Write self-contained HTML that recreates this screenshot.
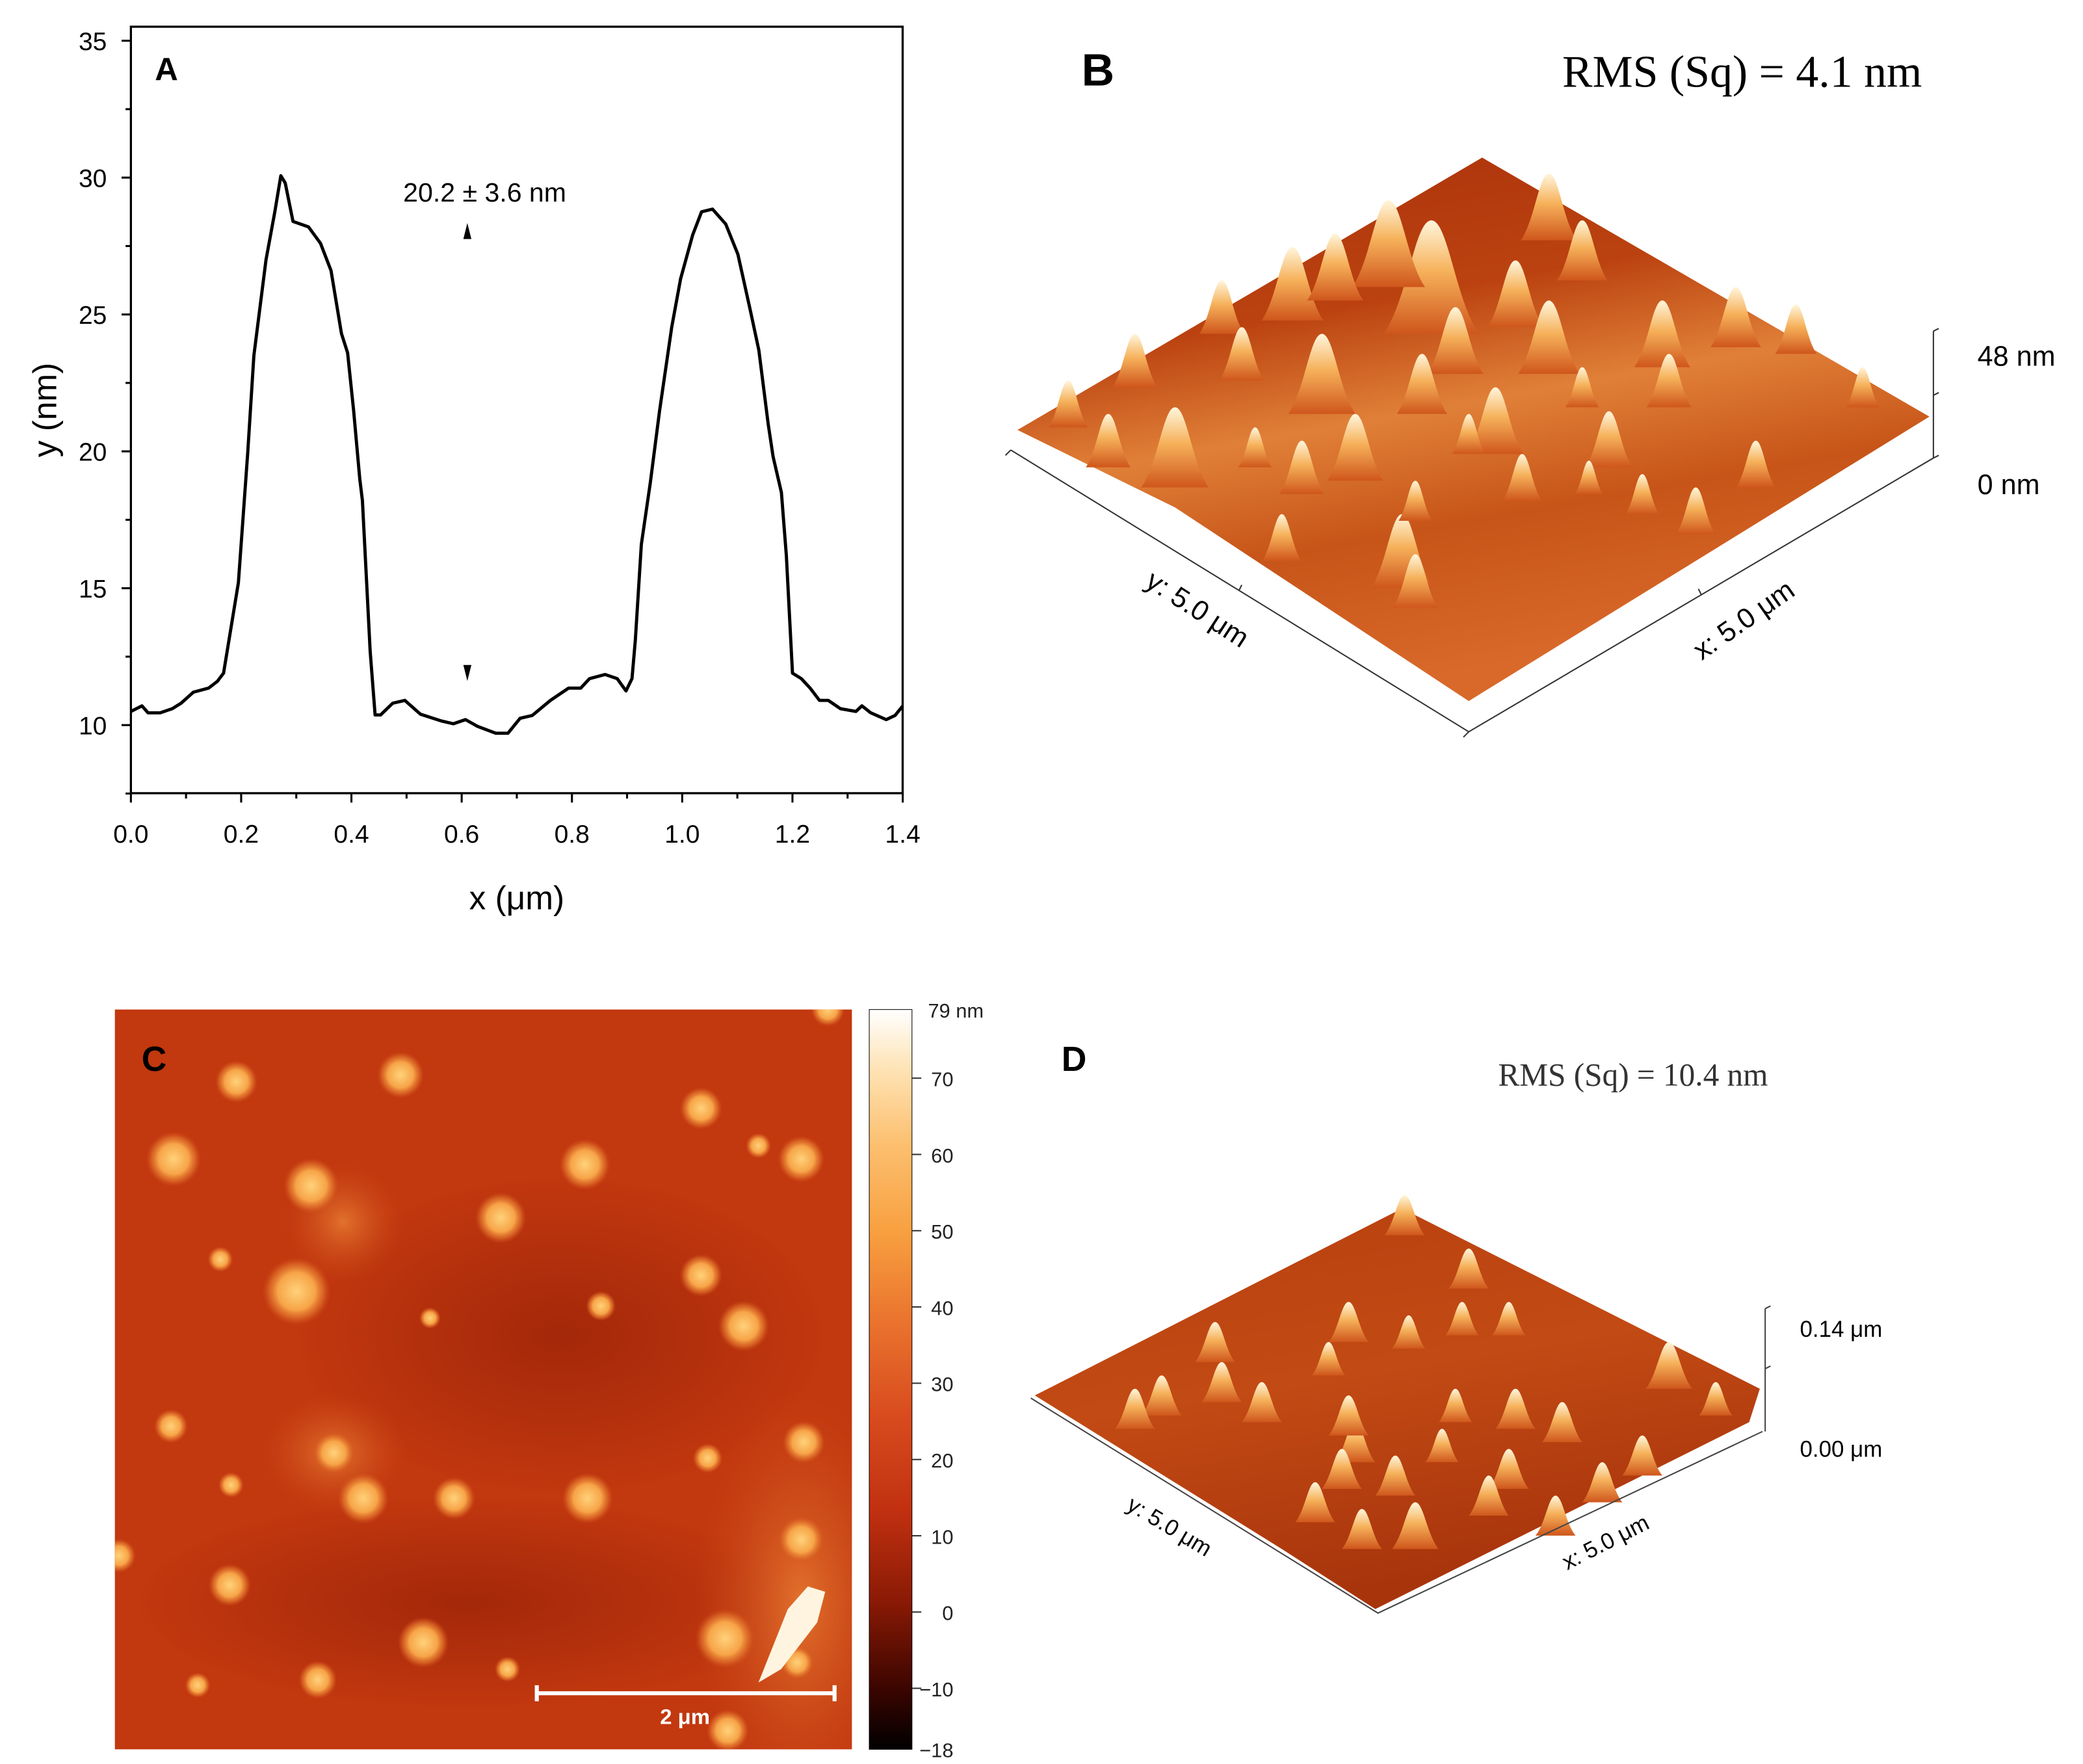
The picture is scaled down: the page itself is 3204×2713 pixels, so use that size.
<!DOCTYPE html>
<html><head><meta charset="utf-8"><style>
html,body{margin:0;padding:0;background:#fff}
svg{display:block;font-family:"Liberation Sans",sans-serif}
</style></head><body>
<svg id="fig" width="3204" height="2713" viewBox="0 0 1560 1321" xmlns="http://www.w3.org/2000/svg">
<defs>
 <linearGradient id="cbar" x1="0" y1="1" x2="0" y2="0">
  <stop offset="0" stop-color="#000"/><stop offset="0.08" stop-color="#3a0500"/>
  <stop offset="0.2" stop-color="#8a1a05"/><stop offset="0.32" stop-color="#c03010"/>
  <stop offset="0.45" stop-color="#d84b1e"/><stop offset="0.58" stop-color="#ea742e"/>
  <stop offset="0.7" stop-color="#f8a040"/><stop offset="0.82" stop-color="#fcc070"/>
  <stop offset="0.92" stop-color="#fee3b5"/><stop offset="1" stop-color="#fff"/>
 </linearGradient>
 <radialGradient id="spot"><stop offset="0" stop-color="#ffd27a"/><stop offset="0.55" stop-color="#f7a448"/><stop offset="0.8" stop-color="#e0702a" stop-opacity="0.7"/><stop offset="1" stop-color="#d0501c" stop-opacity="0"/></radialGradient>
 <radialGradient id="glow"><stop offset="0" stop-color="#f08a3a" stop-opacity="0.7"/><stop offset="1" stop-color="#d0501c" stop-opacity="0"/></radialGradient>
 <radialGradient id="dark"><stop offset="0" stop-color="#8a1a05" stop-opacity="0.55"/><stop offset="1" stop-color="#8a1a05" stop-opacity="0"/></radialGradient>
 <linearGradient id="peak" x1="0" y1="0" x2="0" y2="1"><stop offset="0" stop-color="#fff6dc"/><stop offset="0.45" stop-color="#f6b15a"/><stop offset="1" stop-color="#cf561c"/></linearGradient>
 <linearGradient id="surfB" x1="0" y1="0" x2="0.3" y2="1"><stop offset="0" stop-color="#a9300a"/><stop offset="0.35" stop-color="#bb4210"/><stop offset="0.55" stop-color="#e08038"/><stop offset="0.75" stop-color="#c75418"/><stop offset="1" stop-color="#d8692a"/></linearGradient>
 <linearGradient id="surfD" x1="0" y1="0" x2="0.3" y2="1"><stop offset="0" stop-color="#b8400f"/><stop offset="0.5" stop-color="#c24a14"/><stop offset="1" stop-color="#a8340c"/></linearGradient>
</defs>

<g id="panelA">
 <rect x="98" y="20" width="578" height="574" fill="none" stroke="#000" stroke-width="1.6"/>
 <g id="axA"></g>
 <path id="profile" fill="none" stroke="#000" stroke-width="2.4" stroke-linejoin="round"/>
 <text x="116" y="60" font-size="24" font-weight="bold">A</text>
 <text x="363" y="151" font-size="20" text-anchor="middle">20.2 ± 3.6 nm</text>
 <path d="M347,179 L350,167 L353,179 Z" fill="#000"/>
 <path d="M347,498 L350,510 L353,498 Z" fill="#000"/>
 <text x="387" y="681" font-size="25" text-anchor="middle">x (μm)</text>
 <text transform="translate(42,307) rotate(-90)" font-size="25" text-anchor="middle">y (nm)</text>
</g>

<g id="panelB">
 <text x="810" y="64" font-size="34" font-weight="bold">B</text>
 <text x="1170" y="65" font-size="34" style="font-family:'Liberation Serif',serif">RMS (Sq) = 4.1 nm</text>
 <polygon points="762,322 1110,118 1445,312 1100,525 880,380" fill="url(#surfB)"/>
 <g id="peaksB"></g>
 <g stroke="#333" stroke-width="1" fill="none">
  <path d="M757,337 L1100,548 L1448,343"/>
  <path d="M1448,248 L1448,343 M1448,248 L1452,246 M1448,296 L1452,294 M1448,343 L1452,341 M757,337 L753,341 M1100,548 L1096,552 M928,442 L930,438 M1274,445 L1272,441"/>
 </g>
 <text x="1481" y="274" font-size="21">48 nm</text>
 <text x="1481" y="370" font-size="21">0 nm</text>
 <text transform="translate(893,462) rotate(33)" font-size="21" text-anchor="middle">y: 5.0 μm</text>
 <text transform="translate(1310,470) rotate(-35)" font-size="21" text-anchor="middle">x: 5.0 μm</text>
</g>

<g id="panelC">
 <clipPath id="clipC"><rect x="86" y="756" width="552" height="554"/></clipPath>
 <rect x="86" y="756" width="552" height="554" fill="#c2380f"/>
 <g clip-path="url(#clipC)">
  <ellipse cx="420" cy="1000" rx="200" ry="120" fill="url(#dark)"/>
  <ellipse cx="350" cy="1200" rx="250" ry="80" fill="url(#dark)"/>
  <ellipse cx="600" cy="1200" rx="80" ry="160" fill="url(#glow)"/>
  <ellipse cx="250" cy="1088" rx="55" ry="45" fill="url(#glow)"/>
  <ellipse cx="257" cy="915" rx="45" ry="45" fill="url(#glow)"/>
  <g id="spotsC"></g>
  <path d="M568,1260 L590,1205 L605,1188 L618,1192 L612,1215 L585,1250 Z" fill="#fff4e0"/>
 </g>
 <text x="106" y="802" font-size="26" font-weight="bold">C</text>
 <path d="M402,1268 L625,1268 M402,1262 L402,1274 M625,1262 L625,1274" stroke="#fff" stroke-width="3"/>
 <text x="513" y="1291" font-size="16" font-weight="bold" fill="#fff" text-anchor="middle">2 μm</text>
 <rect x="651" y="756" width="32" height="554" fill="url(#cbar)" stroke="#000" stroke-width="0.5"/>
 <g id="cbarTicks"></g>
</g>

<g id="panelD">
 <text x="795" y="802" font-size="26" font-weight="bold">D</text>
 <text x="1122" y="813" font-size="24" style="font-family:'Liberation Serif',serif" fill="#333">RMS (Sq) = 10.4 nm</text>
 <polygon points="775,1045 1050,905 1318,1040 1310,1065 1030,1205 960,1160" fill="url(#surfD)"/>
 <g id="peaksD"></g>
 <g stroke="#444" stroke-width="1" fill="none">
  <path d="M772,1047 L1032,1208 L1320,1072"/>
  <path d="M1322,980 L1322,1072 M1322,980 L1326,978 M1322,1025 L1326,1023"/>
 </g>
 <text x="1348" y="1001" font-size="17">0.14 μm</text>
 <text x="1348" y="1091" font-size="17">0.00 μm</text>
 <text transform="translate(873,1148) rotate(31)" font-size="17" text-anchor="middle">y: 5.0 μm</text>
 <text transform="translate(1205,1160) rotate(-27)" font-size="17" text-anchor="middle">x: 5.0 μm</text>
</g>
</svg>
<script>
const profileX=[0,0.02,0.031,0.053,0.075,0.091,0.113,0.141,0.157,0.168,0.195,0.212,0.223,0.245,0.261,0.272,0.28,0.294,0.322,0.344,0.363,0.382,0.393,0.404,0.415,0.42,0.434,0.443,0.453,0.475,0.497,0.525,0.563,0.585,0.607,0.629,0.662,0.684,0.706,0.728,0.761,0.794,0.816,0.832,0.86,0.882,0.898,0.909,0.915,0.926,0.942,0.959,0.981,0.997,1.019,1.035,1.055,1.079,1.101,1.123,1.139,1.156,1.165,1.18,1.189,1.2,1.216,1.232,1.249,1.265,1.287,1.315,1.326,1.342,1.37,1.386,1.4];
const profileY=[10.5,10.7,10.45,10.45,10.6,10.8,11.2,11.35,11.6,11.9,15.2,19.95,23.5,27,28.75,30.07,29.8,28.4,28.2,27.6,26.6,24.3,23.6,21.5,19,18.2,12.7,10.37,10.37,10.8,10.9,10.4,10.15,10.05,10.2,9.95,9.7,9.7,10.25,10.35,10.9,11.35,11.35,11.7,11.85,11.7,11.25,11.7,13.1,16.6,18.85,21.5,24.55,26.3,27.9,28.75,28.85,28.3,27.2,25.2,23.7,21,19.8,18.5,16.2,11.9,11.7,11.35,10.9,10.9,10.6,10.5,10.7,10.45,10.2,10.35,10.7];
const yTicks=[10,15,20,25,30,35];
const xTicks=[0,0.2,0.4,0.6,0.8,1.0,1.2,1.4];
const cbarTicks=[79,70,60,50,40,30,20,10,0,-10,-18];
const NS="http://www.w3.org/2000/svg";
const sx=v=>98+v*412.9, sy=v=>543-(v-10)*20.5;
function mk(tag,attrs,parent){const e=document.createElementNS(NS,tag);for(const k in attrs)e.setAttribute(k,attrs[k]);parent.appendChild(e);return e;}
document.getElementById('profile').setAttribute('d',profileX.map((x,i)=>(i?'L':'M')+sx(x).toFixed(1)+','+sy(profileY[i]).toFixed(1)).join(' '));
const axA=document.getElementById('axA');
for(let v=7.5;v<=35.01;v+=2.5){const major=yTicks.includes(v);const l=mk('line',{x1:98,x2:major?91:94,y1:sy(v),y2:sy(v),stroke:'#000','stroke-width':1.5},axA);

}
yTicks.forEach(v=>{const t=mk('text',{x:80,y:sy(v)+7,'font-size':19,'text-anchor':'end'},axA);t.textContent=v;

});
for(let i=0;i<=14;i++){const v=i/10;const l=mk('line',{x1:sx(v),x2:sx(v),y1:594,y2:i%2?598:601,stroke:'#000','stroke-width':1.5},axA);

}
xTicks.forEach(v=>{const t=mk('text',{x:sx(v),y:631,'font-size':19,'text-anchor':'middle'},axA);t.textContent=v.toFixed(1);

});
const cb=document.getElementById('cbarTicks');
const cbY=v=>1310-(v+18)/(97)*554;
cbarTicks.forEach(v=>{const y=cbY(v);
 if(v!==79&&v!==-18){const l=mk('line',{x1:683,x2:690,y1:y,y2:y,stroke:'#333','stroke-width':1},cb);
 
 }
 const t=mk('text',{x:v===79?695:714,y:y+6,'font-size':15,'text-anchor':v===79?'start':'end',fill:'#222'},cb);t.textContent=v===79?'79 nm':(v<0?'−'+(-v):v);
 
 });
const spotX=[177,300,525,130,233,438,375,568,600,222,525,450,557,165,322,128,250,440,272,340,173,602,530,600,172,317,543,380,238,148,89,620,597,545];
const spotY=[810,805,830,868,888,872,912,858,868,967,955,978,993,943,987,1068,1088,1122,1122,1122,1112,1080,1092,1153,1187,1230,1227,1250,1258,1262,1165,756,1245,1296];
const spotR=[10,11,10,13,13,12,12,6,11,16,10,7,12,6,5,8,10,12,12,10,6,10,7,11,10,12,14,6,9,6,8,8,8,10];
const gs=document.getElementById('spotsC');
spotX.forEach((x,i)=>{const e=mk('circle',{cx:x,cy:spotY[i],r:spotR[i]*1.6,fill:'url(#spot)'},gs);

});
function peaks(id,X,T,B,f){const g=document.getElementById(id);
 X.forEach((x,i)=>{const h=B[i]-T[i];const w=Math.max(8,h*f);
 const p=mk('path',{d:`M${x-w},${B[i]} C${x-w*0.5},${B[i]-h*0.3} ${x-w*0.35},${T[i]} ${x},${T[i]} C${x+w*0.35},${T[i]} ${x+w*0.5},${B[i]-h*0.3} ${x+w},${B[i]} Z`,fill:'url(#peak)'},g);
 
 });}
const pbX=[1072,1040,968,915,1000,1135,1160,1185,1090,990,1015,930,1160,1245,1300,1345,1065,1120,1205,1185,1250,1315,1270,1140,1050,1060,960,830,880,800,850,1230,1060,975,1395,940,1190,1100];
const pbT=[165,150,185,210,175,195,130,165,230,250,310,245,225,225,215,228,265,290,308,275,265,330,365,340,385,415,385,310,305,285,250,355,360,330,275,320,345,310];
const pbB=[250,215,240,250,225,245,180,210,280,310,360,285,280,275,260,265,310,340,350,305,305,365,400,375,440,455,420,350,365,320,290,385,390,370,305,350,370,340];
peaks('peaksB',pbX,pbT,pbB,0.42);
const pdX=[1052,1100,1130,1010,1055,1095,995,910,870,915,945,850,1015,1080,1135,1130,1115,1045,1005,985,1060,1020,1165,1200,1230,1250,1170,1285,1010,1090];
const pdT=[895,935,975,975,985,975,1005,990,1030,1020,1035,1040,1065,1070,1040,1085,1105,1090,1085,1110,1125,1130,1120,1095,1075,1005,1050,1035,1045,1040];
const pdB=[925,965,1000,1005,1010,1000,1030,1020,1060,1050,1065,1070,1095,1095,1070,1115,1135,1120,1115,1140,1160,1160,1150,1125,1105,1040,1080,1060,1075,1065];
peaks('peaksD',pdX,pdT,pdB,0.5);
</script>
</body></html>
